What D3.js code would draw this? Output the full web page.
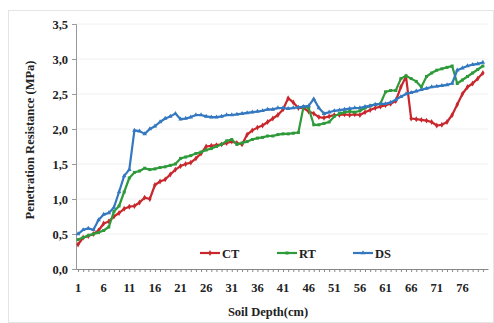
<!DOCTYPE html>
<html>
<head>
<meta charset="utf-8">
<script src="https://cdn.jsdelivr.net/npm/d3@7"></script>
<style>
  body { margin: 0; background: #fff; }
  text { font-family: "Liberation Serif", "Times New Roman", serif; font-weight: bold; fill: #222; }
</style>
</head>
<body>
<div class="svg-container"></div>
<script>
// soil depth (cm), one reading per cm
const depths = d3.range(1, 81);
const xTickLabels = [1, 6, 11, 16, 21, 26, 31, 36, 41, 46, 51, 56, 61, 66, 71, 76];
const yTicks = [0, 0.5, 1, 1.5, 2, 2.5, 3, 3.5];

const ctValues = [0.35, 0.45, 0.47, 0.50, 0.55, 0.65, 0.68, 0.75, 0.80, 0.86,
  0.89, 0.90, 0.95, 1.02, 1.00, 1.20, 1.25, 1.28, 1.35, 1.42,
  1.47, 1.50, 1.52, 1.58, 1.65, 1.75, 1.76, 1.77, 1.78, 1.80,
  1.82, 1.80, 1.78, 1.92, 1.98, 2.02, 2.05, 2.10, 2.15, 2.20,
  2.28, 2.44, 2.38, 2.30, 2.30, 2.25, 2.22, 2.17, 2.16, 2.18,
  2.20, 2.20, 2.21, 2.20, 2.21, 2.20, 2.24, 2.27, 2.30, 2.32,
  2.34, 2.36, 2.40, 2.60, 2.75, 2.15, 2.14, 2.13, 2.12, 2.10,
  2.05, 2.06, 2.10, 2.20, 2.35, 2.50, 2.60, 2.65, 2.72, 2.80];

const rtValues = [0.42, 0.45, 0.48, 0.50, 0.52, 0.55, 0.60, 0.82, 0.90, 1.10,
  1.30, 1.38, 1.40, 1.44, 1.42, 1.43, 1.45, 1.46, 1.48, 1.50,
  1.58, 1.60, 1.62, 1.65, 1.67, 1.70, 1.72, 1.75, 1.78, 1.83,
  1.85, 1.78, 1.80, 1.82, 1.85, 1.87, 1.88, 1.90, 1.90, 1.92,
  1.93, 1.93, 1.94, 1.95, 2.32, 2.30, 2.06, 2.06, 2.08, 2.10,
  2.18, 2.22, 2.24, 2.25, 2.24, 2.26, 2.30, 2.33, 2.35, 2.36,
  2.53, 2.55, 2.55, 2.72, 2.76, 2.72, 2.68, 2.60, 2.75, 2.80,
  2.84, 2.86, 2.88, 2.90, 2.65, 2.70, 2.75, 2.80, 2.85, 2.90];

const dsValues = [0.50, 0.56, 0.58, 0.56, 0.70, 0.78, 0.80, 0.88, 1.10, 1.33,
  1.42, 1.98, 1.97, 1.93, 2.00, 2.04, 2.10, 2.15, 2.18, 2.22,
  2.14, 2.15, 2.17, 2.20, 2.20, 2.18, 2.17, 2.17, 2.18, 2.20,
  2.20, 2.21, 2.22, 2.23, 2.24, 2.25, 2.26, 2.28, 2.28, 2.30,
  2.30, 2.29, 2.30, 2.31, 2.32, 2.33, 2.43, 2.30, 2.22, 2.24,
  2.26, 2.27, 2.28, 2.29, 2.30, 2.30, 2.32, 2.33, 2.35, 2.36,
  2.36, 2.38, 2.42, 2.46, 2.50, 2.52, 2.54, 2.56, 2.58, 2.60,
  2.61, 2.62, 2.63, 2.65, 2.84, 2.87, 2.90, 2.92, 2.93, 2.95];

const seriesNames = ["CT", "RT", "DS"];
const seriesColors = ["#c8282d", "#2e9a3a", "#3478c0"];

const width = 494, height = 323;
const margin = {top: 24, bottom: 54, left: 76, right: 6};
const fontSize = "12.5px";

const svg = d3.select(".svg-container").append("svg")
  .attr("width", width)
  .attr("height", height);

// faint chart frame
svg.append("rect")
  .attr("x", 8.5).attr("y", 10.5)
  .attr("width", width - 9).attr("height", height - 11)
  .style("fill", "none")
  .style("stroke", "#e4e4e4");

const xScale = d3.scaleLinear().domain([0.6, 81]).range([margin.left, width - margin.right]);
const yScale = d3.scaleLinear().domain([0, 3.5]).range([height - margin.bottom, margin.top]);
const fmt = d => d3.format(".1f")(d).replace(".", ",");

// horizontal grid
svg.append("g")
  .selectAll("line")
  .data(yTicks.slice(1))
  .join("line")
  .attr("x1", margin.left).attr("x2", width - margin.right)
  .attr("y1", d => yScale(d)).attr("y2", d => yScale(d))
  .style("stroke", "#f0f0f0");

// y axis
const yAxis = d3.axisLeft(yScale).tickValues(yTicks).tickFormat(fmt).tickSize(4).tickPadding(4);
const gy = svg.append("g")
  .attr("transform", `translate(${margin.left},0)`)
  .call(yAxis);
gy.select(".domain").style("stroke", "#999");
gy.selectAll(".tick line").style("stroke", "#999");
gy.selectAll("text").style("font-size", fontSize).style("font-family", null);

// x axis: minor ticks every cm, labels every 5
const gx = svg.append("g")
  .attr("transform", `translate(0,${height - margin.bottom})`)
  .call(d3.axisBottom(xScale).tickValues(depths).tickSize(3).tickSizeOuter(0).tickFormat(""));
gx.select(".domain").style("stroke", "#888");
gx.selectAll(".tick line").style("stroke", "#888");

svg.append("g")
  .selectAll("text")
  .data(xTickLabels)
  .join("text")
  .attr("x", d => xScale(d))
  .attr("y", height - margin.bottom + 23)
  .style("text-anchor", "middle")
  .style("font-size", fontSize)
  .text(d => d);

// axis titles
svg.append("text")
  .attr("x", 268)
  .attr("y", 316)
  .style("text-anchor", "middle")
  .style("font-size", fontSize)
  .text("Soil Depth(cm)");

svg.append("text")
  .attr("transform", "rotate(-90)")
  .attr("x", -140)
  .attr("y", 34)
  .style("text-anchor", "middle")
  .style("font-size", fontSize)
  .text("Penetration Resistance (MPa)");

// series lines
const allValues = [ctValues, rtValues, dsValues];
const line = d3.line()
  .x((d, i) => xScale(depths[i]))
  .y(d => yScale(d));

const markerPath = [
  d3.symbol(d3.symbolDiamond, 10),
  d3.symbol(d3.symbolSquare, 9),
  d3.symbol(d3.symbolTriangle, 9)
];

allValues.forEach((vals, k) => {
  svg.append("path")
    .datum(vals)
    .attr("d", line)
    .style("fill", "none")
    .style("stroke", seriesColors[k])
    .style("stroke-width", 2.2)
    .style("stroke-linejoin", "round");

  svg.append("g")
    .selectAll("path")
    .data(vals)
    .join("path")
    .attr("transform", (d, i) => `translate(${xScale(depths[i])},${yScale(d)})`)
    .attr("d", markerPath[k]())
    .style("fill", seriesColors[k]);
});

// legend
const legendX = [200, 277, 353];
const legendY = 253;
seriesNames.forEach((name, k) => {
  const g = svg.append("g").attr("transform", `translate(${legendX[k]},${legendY})`);
  g.append("line")
    .attr("x1", 0).attr("x2", 20)
    .style("stroke", seriesColors[k])
    .style("stroke-width", 2.2);
  g.append("path")
    .attr("transform", "translate(10,0)")
    .attr("d", markerPath[k]())
    .style("fill", seriesColors[k]);
  g.append("text")
    .attr("x", 22)
    .attr("y", 4.5)
    .style("font-size", fontSize)
    .text(name);
});
</script>
</body>
</html>
